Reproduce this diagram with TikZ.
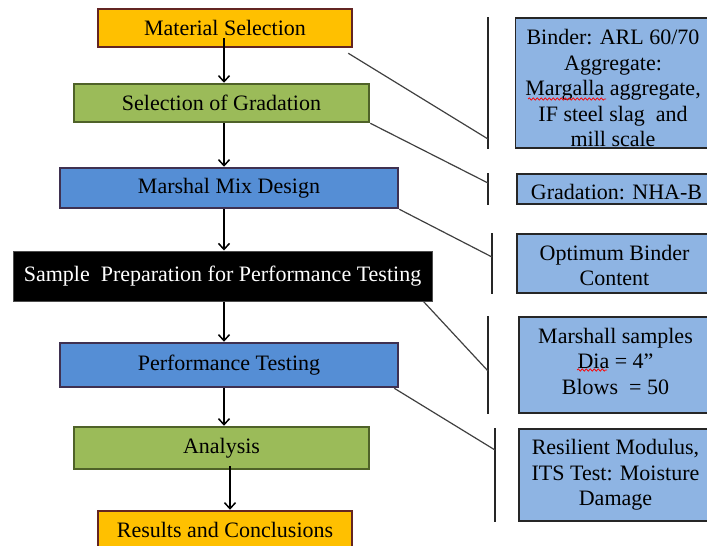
\documentclass[tikz,border=0pt]{standalone}
\usepackage{fontspec}
\setmainfont{Liberation Serif}
\usetikzlibrary{arrows.meta,decorations.pathmorphing}

\definecolor{orangefill}{HTML}{FFC000}
\definecolor{orangeline}{HTML}{632523}
\definecolor{greenfill}{HTML}{9BBB59}
\definecolor{greenline}{HTML}{4F6228}
\definecolor{bluefill}{HTML}{558ED5}
\definecolor{blueline}{HTML}{3F3151}
\definecolor{notefill}{HTML}{8EB4E3}

\begin{document}
\begin{tikzpicture}[x=1pt,y=-1pt,
    stage/.style={draw,line width=2.5pt,minimum height=38pt,inner sep=0pt,
        font=\fontsize{22}{25}\selectfont},
    note/.style={draw=black!85,line width=1.5pt,fill=notefill,inner sep=0pt,
        minimum width=205pt},
    notetext/.style={align=center,inner sep=0pt,font=\fontsize{22}{25.5}\selectfont},
    flow/.style={-{Straight Barb[length=6pt,width=11pt]},line width=1.5pt},
    link/.style={line width=1.2pt,black!75},
    bracket/.style={line width=1.8pt,black!85},
    typo/.style={red,line width=0.7pt,decorate,
        decoration={snake,amplitude=1.2pt,segment length=4pt}}]
\useasboundingbox (0,0) rectangle (707,546);
\clip (0,0) rectangle (707,546);

% main stages, top to bottom
\node[stage,fill=orangefill,draw=orangeline,minimum width=254pt] (ms) at (225,28) {Material Selection};
\node[stage,fill=greenfill,draw=greenline,minimum width=295pt] (sg) at (221.5,103) {Selection of Gradation};
\node[stage,fill=bluefill,draw=blueline,minimum width=338pt,minimum height=40pt] (mmd) at (229,188) {Marshal Mix Design};
\node[stage,fill=black,draw=black!70,line width=1pt,text=white,minimum width=419pt,minimum height=50pt] (sp) at (222.5,276) {Sample\ \ Preparation for Performance Testing};
\node[stage,fill=bluefill,draw=blueline,minimum width=338pt,minimum height=44pt] (pt) at (229,365) {Performance Testing};
\node[stage,fill=greenfill,draw=greenline,minimum width=295pt,minimum height=42pt] (an) at (221.5,448) {Analysis};
\node[stage,fill=orangefill,draw=orangeline,minimum width=254pt] (rc) at (225,530) {Results\ and Conclusions};

% notes on the right (box centre, text placed on top)
\node[note,minimum height=130pt,label={[notetext,yshift=-5pt,xshift=-5pt]center:{Binder: ARL 60/70\\Aggregate:\\Margalla aggregate,\\IF steel slag\ \ and\\mill scale}}] (na) at (618,83) {};
\node[note,minimum height=30pt,label={[notetext,yshift=-3pt,xshift=-3pt]center:{Gradation: NHA-B}}] (nb) at (619.5,189) {};
\node[note,minimum height=59pt,label={[notetext,yshift=-2pt,xshift=-5pt]center:{Optimum Binder\\Content}}] (nc) at (619.5,263.5) {};
\node[note,minimum height=96pt,label={[notetext,yshift=4pt,xshift=-6pt]center:{Marshall samples\\Dia = 4”\\Blows\ \ = 50}}] (nd) at (621.5,365) {};
\node[note,minimum height=92pt,label={[notetext,xshift=-6pt]center:{Resilient Modulus,\\ITS Test: Moisture\\Damage}}] (ne) at (621.5,475) {};

% spell-check marks
\draw[typo] (528,99) -- (606,99);
\draw[typo] (577,370) -- (607,370);

% arrows down the middle
\coordinate (spine) at (224,0);
\draw[flow] ([yshift=10pt]ms.south -| spine) -- (sg.north -| spine);
\draw[flow] (sg.south -| spine) -- (mmd.north -| spine);
\draw[flow] (mmd.south -| spine) -- (sp.north -| spine);
\draw[flow] (sp.south -| spine) -- (pt.north -| spine);
\draw[flow] (pt.south -| spine) -- (an.north -| spine);
\draw[flow] ([shift={(8.5,-4)}]an.south) coordinate (a6) -- (a6 |- rc.north);

% brackets and leaders
\coordinate (j1) at (488,139);
\coordinate (j2) at (488,183);
\coordinate (j3) at (492,257);
\coordinate (j4) at (488,371);
\coordinate (j5) at (495,450);
\draw[bracket] (na.north west -| j1) -- (na.south west -| j1);
\draw[bracket] (nb.north west -| j2) -- (nb.south west -| j2);
\draw[bracket] (nc.north west -| j3) -- (nc.south west -| j3);
\draw[bracket] (nd.north west -| j4) -- (nd.south west -| j4);
\draw[bracket] (ne.north west -| j5) -- (ne.south west -| j5);
\draw[link] ([shift={(-5,5)}]ms.south east) -- (j1);
\draw[link] (sg.south east) -- (j2);
\draw[link] (mmd.south east) -- (j3);
\draw[link] ([xshift=-9pt]sp.south east) -- (j4);
\draw[link] ([xshift=-5pt]pt.south east) -- (j5);
\end{tikzpicture}
\end{document}
